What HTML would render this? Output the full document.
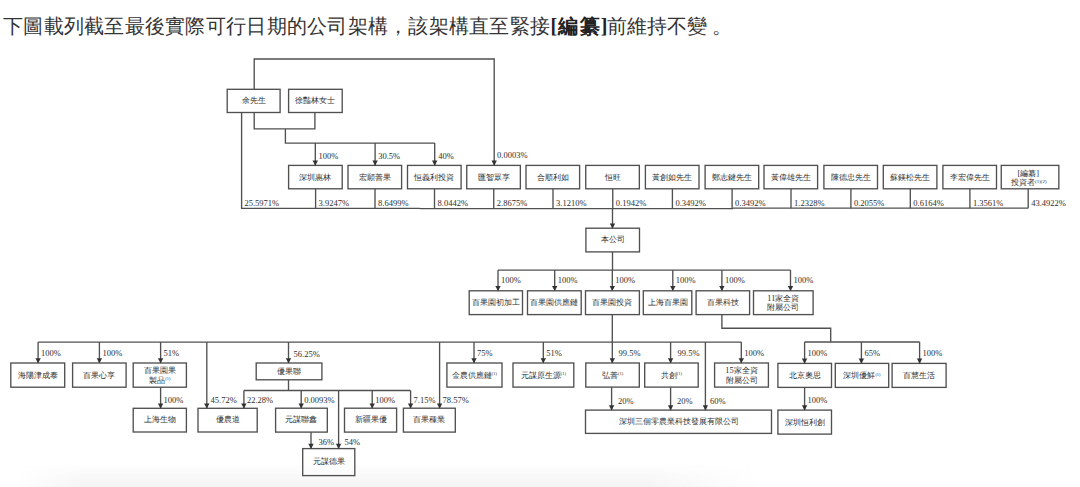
<!DOCTYPE html><html><head><meta charset="utf-8"><style>html,body{margin:0;padding:0;background:#fff;width:1080px;height:487px;overflow:hidden}svg{position:absolute;left:0;top:0}.t{font-family:"Liberation Serif",serif}</style></head><body>
<svg width="1080" height="487" viewBox="0 0 1080 487">
<defs><linearGradient id="sh" x1="0" y1="0" x2="0" y2="1"><stop offset="0" stop-color="#f4f4f4" stop-opacity="0"/><stop offset="1" stop-color="#f4f4f4" stop-opacity="1"/></linearGradient><linearGradient id="hm" x1="0" y1="0" x2="1" y2="0"><stop offset="0" stop-color="#fff" stop-opacity="0"/><stop offset="0.09" stop-color="#fff" stop-opacity="1"/><stop offset="0.85" stop-color="#fff" stop-opacity="1"/><stop offset="1" stop-color="#fff" stop-opacity="0"/></linearGradient><mask id="mk"><rect x="15" y="462" width="745" height="25" fill="url(#hm)"/></mask></defs>
<rect x="15" y="462" width="745" height="25" fill="url(#sh)" mask="url(#mk)"/>
<text class="t" x="3.0" y="32.5" font-size="20" fill="#333" font-weight="300" letter-spacing="0.27">下圖載列截至最後實際可行日期的公司架構，該架構直至緊接</text>
<text class="t" x="550.5" y="32.5" font-size="20" fill="#222" font-weight="bold" letter-spacing="1.2">[編纂]</text>
<text class="t" x="606.5" y="32.5" font-size="20" fill="#333" font-weight="300">前維持不變</text><text class="t" x="712" y="32.5" font-size="20" fill="#333" font-weight="300">。</text>
<g fill="none" stroke="#505050" stroke-width="1.35">
<polyline points="254.2,89.3 254.2,59 494.2,59 494.2,165.4"/>
<polyline points="254.2,112.5 254.2,128.9 314.9,128.9 314.9,112.5"/>
<polyline points="285.4,128.9 285.4,143.1 434.7,143.1"/>
<polyline points="315.3,143.1 315.3,165.4"/>
<polyline points="375.1,143.1 375.1,165.4"/>
<polyline points="434.7,143.1 434.7,165.4"/>
<polyline points="241.6,112.5 241.6,208.3 420,208.3"/>
<polyline points="420,208.6 733,208.6"/>
<polyline points="733,208.1 1028.2,208.1"/>
<polyline points="315.6,188.8 315.6,208.3"/>
<polyline points="375,188.8 375,208.3"/>
<polyline points="434.5,188.8 434.5,208.3"/>
<polyline points="493.75,188.8 493.75,208.3"/>
<polyline points="553,188.8 553,208.3"/>
<polyline points="612.75,188.8 612.75,208.3"/>
<polyline points="672.4,188.8 672.4,208.3"/>
<polyline points="732.1,188.8 732.1,208.3"/>
<polyline points="791,188.8 791,208.3"/>
<polyline points="850.9,188.8 850.9,208.3"/>
<polyline points="910.3,188.8 910.3,208.3"/>
<polyline points="969.9,188.8 969.9,208.3"/>
<polyline points="1028.2,188.8 1028.2,208.3"/>
<polyline points="612.5,208.3 612.5,228.2"/>
<polyline points="612.5,251.9 612.5,270.1"/>
<polyline points="498,270.1 790.5,270.1"/>
<polyline points="498,270.1 498,290.8"/>
<polyline points="554.7,270.1 554.7,290.8"/>
<polyline points="612.3,270.1 612.3,290.8"/>
<polyline points="672.8,270.1 672.8,290.8"/>
<polyline points="721.9,270.1 721.9,290.8"/>
<polyline points="790.5,270.1 790.5,290.8"/>
<polyline points="612.3,314.6 612.3,363"/>
<polyline points="38.1,342.1 741.3,342.1"/>
<polyline points="38.1,342.1 38.1,363"/>
<polyline points="99.4,342.1 99.4,363"/>
<polyline points="160.6,342.1 160.6,363"/>
<polyline points="160.6,387.2 160.6,408.3"/>
<polyline points="206.8,342.1 206.8,408.3"/>
<polyline points="288.5,342.1 288.5,363"/>
<polyline points="288.5,379.8 288.5,390.5"/>
<polyline points="243.9,390.5 410.6,390.5"/>
<polyline points="243.9,390.5 243.9,408.2"/>
<polyline points="301.2,390.5 301.2,408.2"/>
<polyline points="372.2,390.5 372.2,408.2"/>
<polyline points="410.6,390.5 410.6,408.2"/>
<polyline points="338.6,390.5 338.6,448.6"/>
<polyline points="311,432.1 311,448.6"/>
<polyline points="439.6,342.1 439.6,408.2"/>
<polyline points="474,342.1 474,363"/>
<polyline points="543.3,342.1 543.3,363"/>
<polyline points="670.6,342.1 670.6,363"/>
<polyline points="741.3,342.1 741.3,363"/>
<polyline points="611.6,387.1 611.6,410.1"/>
<polyline points="670.6,387.1 670.6,410.1"/>
<polyline points="705.4,342.1 705.4,410.1"/>
<polyline points="721.9,314.6 721.9,328.2 830.7,328.2 830.7,342"/>
<polyline points="804.6,342 919.6,342"/>
<polyline points="804.6,342 804.6,363.4"/>
<polyline points="861.4,342 861.4,363.4"/>
<polyline points="919.6,342 919.6,363.4"/>
<polyline points="804.6,387.4 804.6,410.1"/>
<rect x="227.2" y="89.3" width="52.90" height="23.20"/>
<rect x="288.6" y="89.3" width="53.60" height="23.20"/>
<rect x="288.6" y="165.4" width="53.60" height="23.40"/>
<rect x="348" y="165.4" width="53.60" height="23.40"/>
<rect x="407.5" y="165.4" width="53.60" height="23.40"/>
<rect x="466.75" y="165.4" width="53.60" height="23.40"/>
<rect x="526" y="165.4" width="53.60" height="23.40"/>
<rect x="585.75" y="165.4" width="53.60" height="23.40"/>
<rect x="645.4" y="165.4" width="53.60" height="23.40"/>
<rect x="705.1" y="165.4" width="53.60" height="23.40"/>
<rect x="764" y="165.4" width="53.60" height="23.40"/>
<rect x="823.9" y="165.4" width="53.60" height="23.40"/>
<rect x="883.3" y="165.4" width="53.60" height="23.40"/>
<rect x="942.9" y="165.4" width="53.60" height="23.40"/>
<rect x="1001.25" y="165.4" width="57.60" height="23.40"/>
<rect x="585.9" y="228.2" width="53.60" height="23.70"/>
<rect x="469.2" y="290.8" width="53.30" height="23.80"/>
<rect x="527.5" y="290.8" width="53.70" height="23.80"/>
<rect x="585.5" y="290.8" width="53.90" height="23.80"/>
<rect x="643.3" y="290.8" width="48.50" height="23.80"/>
<rect x="696.1" y="290.8" width="53.50" height="23.80"/>
<rect x="753.5" y="290.8" width="59.60" height="23.80"/>
<rect x="10.8" y="363" width="53.90" height="24.20"/>
<rect x="72.6" y="363" width="53.50" height="24.20"/>
<rect x="133.2" y="363" width="53.20" height="24.20"/>
<rect x="133.2" y="408.3" width="53.20" height="23.70"/>
<rect x="198" y="408.3" width="59.20" height="23.70"/>
<rect x="256.2" y="363" width="65.70" height="16.80"/>
<rect x="275.6" y="408.2" width="51.70" height="23.90"/>
<rect x="344.5" y="408.2" width="52.10" height="23.90"/>
<rect x="403.4" y="408.2" width="51.90" height="23.90"/>
<rect x="302.7" y="448.6" width="52.10" height="27.00"/>
<rect x="446.9" y="363" width="55.10" height="24.10"/>
<rect x="513" y="363" width="60.80" height="24.10"/>
<rect x="585.8" y="363" width="53.50" height="24.10"/>
<rect x="644.7" y="363" width="53.50" height="24.10"/>
<rect x="714.6" y="363" width="53.80" height="24.10"/>
<rect x="585.5" y="410.1" width="186.00" height="23.30"/>
<rect x="777.9" y="363.4" width="53.60" height="24.00"/>
<rect x="835.3" y="363.4" width="53.40" height="24.00"/>
<rect x="892.1" y="363.4" width="54.00" height="24.00"/>
<rect x="777.9" y="410.1" width="53.60" height="24.00"/>
</g>
<g fill="#333">
<path d="M491.5,160.6L496.9,160.6L494.2,165.70000000000002Z"/>
<path d="M312.6,160.6L318.0,160.6L315.3,165.70000000000002Z"/>
<path d="M372.40000000000003,160.6L377.8,160.6L375.1,165.70000000000002Z"/>
<path d="M432.0,160.6L437.4,160.6L434.7,165.70000000000002Z"/>
<path d="M609.8,223.39999999999998L615.2,223.39999999999998L612.5,228.5Z"/>
<path d="M495.3,286.0L500.7,286.0L498,291.1Z"/>
<path d="M552.0,286.0L557.4000000000001,286.0L554.7,291.1Z"/>
<path d="M609.5999999999999,286.0L615.0,286.0L612.3,291.1Z"/>
<path d="M670.0999999999999,286.0L675.5,286.0L672.8,291.1Z"/>
<path d="M719.1999999999999,286.0L724.6,286.0L721.9,291.1Z"/>
<path d="M787.8,286.0L793.2,286.0L790.5,291.1Z"/>
<path d="M609.5999999999999,358.2L615.0,358.2L612.3,363.3Z"/>
<path d="M35.4,358.2L40.800000000000004,358.2L38.1,363.3Z"/>
<path d="M96.7,358.2L102.10000000000001,358.2L99.4,363.3Z"/>
<path d="M157.9,358.2L163.29999999999998,358.2L160.6,363.3Z"/>
<path d="M157.9,403.5L163.29999999999998,403.5L160.6,408.6Z"/>
<path d="M204.10000000000002,403.5L209.5,403.5L206.8,408.6Z"/>
<path d="M285.8,358.2L291.2,358.2L288.5,363.3Z"/>
<path d="M241.20000000000002,403.4L246.6,403.4L243.9,408.5Z"/>
<path d="M298.5,403.4L303.9,403.4L301.2,408.5Z"/>
<path d="M369.5,403.4L374.9,403.4L372.2,408.5Z"/>
<path d="M407.90000000000003,403.4L413.3,403.4L410.6,408.5Z"/>
<path d="M335.90000000000003,443.8L341.3,443.8L338.6,448.90000000000003Z"/>
<path d="M308.3,443.8L313.7,443.8L311,448.90000000000003Z"/>
<path d="M436.90000000000003,403.4L442.3,403.4L439.6,408.5Z"/>
<path d="M471.3,358.2L476.7,358.2L474,363.3Z"/>
<path d="M540.5999999999999,358.2L546.0,358.2L543.3,363.3Z"/>
<path d="M667.9,358.2L673.3000000000001,358.2L670.6,363.3Z"/>
<path d="M738.5999999999999,358.2L744.0,358.2L741.3,363.3Z"/>
<path d="M608.9,405.3L614.3000000000001,405.3L611.6,410.40000000000003Z"/>
<path d="M667.9,405.3L673.3000000000001,405.3L670.6,410.40000000000003Z"/>
<path d="M702.6999999999999,405.3L708.1,405.3L705.4,410.40000000000003Z"/>
<path d="M801.9,358.59999999999997L807.3000000000001,358.59999999999997L804.6,363.7Z"/>
<path d="M858.6999999999999,358.59999999999997L864.1,358.59999999999997L861.4,363.7Z"/>
<path d="M916.9,358.59999999999997L922.3000000000001,358.59999999999997L919.6,363.7Z"/>
<path d="M801.9,405.3L807.3000000000001,405.3L804.6,410.40000000000003Z"/>
</g>
<g class="t" fill="#2e2e2e" font-size="8.5">
<text x="318.4" y="159">100%</text>
<text x="378.2" y="159">30.5%</text>
<text x="438.2" y="159">40%</text>
<text x="497.1" y="158.2">0.0003%</text>
<text x="244.4" y="205.8">25.5971%</text>
<text x="318.6" y="205.8">3.9247%</text>
<text x="378.0" y="205.8">8.6499%</text>
<text x="437.5" y="205.8">8.0442%</text>
<text x="496.75" y="205.8">2.8675%</text>
<text x="556.0" y="205.8">3.1210%</text>
<text x="615.75" y="205.8">0.1942%</text>
<text x="675.4" y="205.8">0.3492%</text>
<text x="735.1" y="205.8">0.3492%</text>
<text x="794.0" y="205.8">1.2328%</text>
<text x="853.9" y="205.8">0.2055%</text>
<text x="913.3" y="205.8">0.6164%</text>
<text x="972.9" y="205.8">1.3561%</text>
<text x="1031.2" y="205.8">43.4922%</text>
<text x="501" y="283.3">100%</text>
<text x="557.7" y="283.3">100%</text>
<text x="615.3" y="283.3">100%</text>
<text x="675.8" y="283.3">100%</text>
<text x="724.9" y="283.3">100%</text>
<text x="793.5" y="283.3">100%</text>
<text x="41.1" y="356.2">100%</text>
<text x="102.4" y="356.2">100%</text>
<text x="163.6" y="356.2">51%</text>
<text x="163.6" y="402.8">100%</text>
<text x="210.5" y="403.2">45.72%</text>
<text x="293.5" y="356.8">56.25%</text>
<text x="246.9" y="403.2">22.28%</text>
<text x="304.2" y="403.2">0.0093%</text>
<text x="375.2" y="403.2">100%</text>
<text x="413.6" y="403.2">7.15%</text>
<text x="344.5" y="445">54%</text>
<text x="318.6" y="445">36%</text>
<text x="442.6" y="403.2">78.57%</text>
<text x="477" y="356.2">75%</text>
<text x="546.3" y="356.2">51%</text>
<text x="618.6" y="356.2">99.5%</text>
<text x="677.6" y="356.2">99.5%</text>
<text x="744.3" y="356.2">100%</text>
<text x="618" y="404">20%</text>
<text x="677" y="404">20%</text>
<text x="710" y="404">60%</text>
<text x="807.6" y="356">100%</text>
<text x="864.4" y="356">65%</text>
<text x="922.6" y="356">100%</text>
<text x="807.6" y="403">100%</text>
<text x="253.65" y="102.7" text-anchor="middle" font-size="8.3">余先生</text>
<text x="315.4" y="102.7" text-anchor="middle" font-size="8.3">徐豔林女士</text>
<text x="315.40000000000003" y="179.70000000000002" text-anchor="middle" font-size="8.3">深圳惠林</text>
<text x="374.8" y="179.70000000000002" text-anchor="middle" font-size="8.3">宏願善果</text>
<text x="434.3" y="179.70000000000002" text-anchor="middle" font-size="8.3">恒義利投資</text>
<text x="493.55" y="179.70000000000002" text-anchor="middle" font-size="8.3">匯智眾享</text>
<text x="552.8" y="179.70000000000002" text-anchor="middle" font-size="8.3">合順利如</text>
<text x="612.55" y="179.70000000000002" text-anchor="middle" font-size="8.3">恒旺</text>
<text x="672.2" y="179.70000000000002" text-anchor="middle" font-size="8.3">黃創如先生</text>
<text x="731.9000000000001" y="179.70000000000002" text-anchor="middle" font-size="8.3">鄭志鍵先生</text>
<text x="790.8" y="179.70000000000002" text-anchor="middle" font-size="8.3">黃偉雄先生</text>
<text x="850.7" y="179.70000000000002" text-anchor="middle" font-size="8.3">陳德忠先生</text>
<text x="910.0999999999999" y="179.70000000000002" text-anchor="middle" font-size="8.3">蘇鎂松先生</text>
<text x="969.7" y="179.70000000000002" text-anchor="middle" font-size="8.3">李宏偉先生</text>
<text x="1017.5" y="176.3" font-size="8.3">[編纂]</text>
<text x="1010.8" y="184.8" font-size="8.3">投資者</text>
<text x="1035" y="183" font-size="5">(1)(2)</text>
<text x="612.7" y="241.65" text-anchor="middle" font-size="8.3">本公司</text>
<text x="495.85" y="305.30000000000007" text-anchor="middle" font-size="8.3">百果園初加工</text>
<text x="554.35" y="305.30000000000007" text-anchor="middle" font-size="8.3">百果園供應鏈</text>
<text x="612.45" y="305.30000000000007" text-anchor="middle" font-size="8.3">百果園投資</text>
<text x="667.55" y="305.30000000000007" text-anchor="middle" font-size="8.3">上海百果園</text>
<text x="722.85" y="305.30000000000007" text-anchor="middle" font-size="8.3">百果科技</text>
<text x="783.3" y="300.70000000000005" text-anchor="middle" font-size="8.3">11家全資</text>
<text x="783.3" y="310.40000000000003" text-anchor="middle" font-size="8.3">附屬公司</text>
<text x="37.75" y="377.70000000000005" text-anchor="middle" font-size="8.3">海陽津成泰</text>
<text x="99.35" y="377.70000000000005" text-anchor="middle" font-size="8.3">百果心享</text>
<text x="159.8" y="373.1" text-anchor="middle" font-size="8.3">百果園果</text>
<text x="159.8" y="382.8" text-anchor="middle" font-size="8.3">製品<tspan font-size="4.5" dy="-2.5">(1)</tspan></text>
<text x="159.8" y="421.75" text-anchor="middle" font-size="8.3">上海生物</text>
<text x="227.6" y="421.75" text-anchor="middle" font-size="8.3">優農道</text>
<text x="289.04999999999995" y="374.0" text-anchor="middle" font-size="8.3">優果聯</text>
<text x="301.45000000000005" y="421.75" text-anchor="middle" font-size="8.3">元謀聯鑫</text>
<text x="370.55" y="421.75" text-anchor="middle" font-size="8.3">新疆果優</text>
<text x="429.35" y="421.75" text-anchor="middle" font-size="8.3">百果種業</text>
<text x="328.75" y="463.70000000000005" text-anchor="middle" font-size="8.3">元謀德果</text>
<text x="474.45" y="377.65000000000003" text-anchor="middle" font-size="8.3">金農供應鏈<tspan font-size="4.5" dy="-2.5">(1)</tspan></text>
<text x="543.4" y="377.65000000000003" text-anchor="middle" font-size="8.3">元謀原生源<tspan font-size="4.5" dy="-2.5">(1)</tspan></text>
<text x="612.55" y="377.65000000000003" text-anchor="middle" font-size="8.3">弘善<tspan font-size="4.5" dy="-2.5">(1)</tspan></text>
<text x="671.45" y="377.65000000000003" text-anchor="middle" font-size="8.3">共創<tspan font-size="4.5" dy="-2.5">(1)</tspan></text>
<text x="741.5" y="373.05" text-anchor="middle" font-size="8.3">15家全資</text>
<text x="741.5" y="382.75" text-anchor="middle" font-size="8.3">附屬公司</text>
<text x="678.5" y="424.35" text-anchor="middle" font-size="8.3">深圳三個零農業科技發展有限公司</text>
<text x="804.7" y="378.0" text-anchor="middle" font-size="8.3">北京奧思</text>
<text x="862.0" y="378.0" text-anchor="middle" font-size="8.3">深圳優鮮<tspan font-size="4.5" dy="-2.5">(1)</tspan></text>
<text x="919.1" y="378.0" text-anchor="middle" font-size="8.3">百慧生活</text>
<text x="804.7" y="424.70000000000005" text-anchor="middle" font-size="8.3">深圳恒利創</text>
</g>
</svg></body></html>
